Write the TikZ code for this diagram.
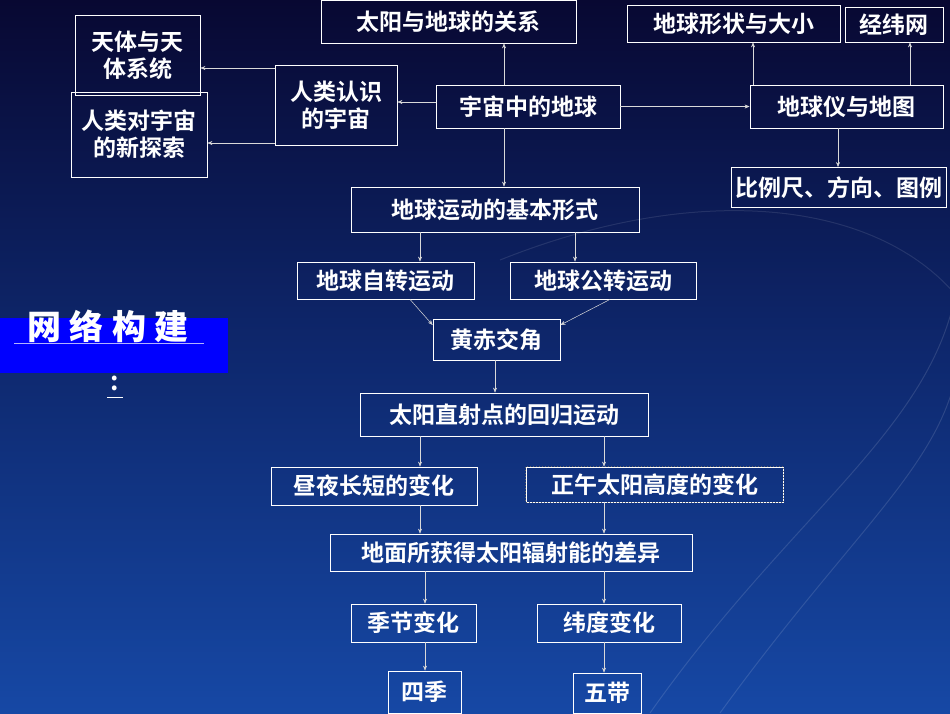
\documentclass[tikz,border=0pt]{standalone}
\usepackage{fontspec}
\setmainfont{Noto Sans CJK SC}[BoldFont={* Bold}]
\usetikzlibrary{arrows.meta}
\tikzset{
 bx/.style={draw=white,line width=0.8pt,text=white,font=\bfseries\fontsize{23}{27}\selectfont,inner sep=0pt,align=center},
 arr/.style={draw=white!85!black,line width=0.5pt,-{Stealth[length=5pt,width=4pt]}}
}
\definecolor{bgtop}{RGB}{8,8,50}
\definecolor{bgbot}{RGB}{22,72,165}
\begin{document}
\begin{tikzpicture}[x=1pt,y=-1pt]
\useasboundingbox (0,0) rectangle (950,713);
\shade[top color=bgtop,bottom color=bgbot,middle color={rgb,255:red,14;green,40;blue,110}] (0,0) rectangle (950,713);
\begin{scope}
\clip (0,0) rectangle (950,713);
\draw[white,opacity=0.12,line width=1pt] (650,713) .. controls (800,500) and (950,420) .. (960,260);
\draw[white,opacity=0.12,line width=1pt] (720,713) .. controls (860,520) and (950,460) .. (960,350);
\draw[white,opacity=0.1,line width=1pt] (500,260) .. controls (700,180) and (880,200) .. (960,300);
\end{scope}
% title
\fill[blue!100] (0,318) rectangle (228,373);
\draw[white!70!blue,line width=1pt] (14,343) -- (204,343);
\node[font=\bfseries\itshape\fontsize{34}{38}\selectfont,text=white,
  preaction={}] (ttl) at (108,326) {\addfontfeatures{LetterSpace=25}网络构建};
\node[font=\bfseries\fontsize{26}{30}\selectfont,text=white] (col) at (115,383) {:};
\draw[white,line width=1pt] (107,397) -- (123,397);
% boxes (x1,y1,x2,y2)
\newcommand{\bxat}[6]{\node[bx,minimum width={#4-#2},minimum height={#5-#3}] (#1) at ({(#2+#4)/2},{(#3+#5)/2}) {#6};}
\bxat{tydq}{321}{0}{576}{43}{太阳与地球的关系}
\bxat{dqxz}{627}{5}{840}{42}{地球形状与大小}
\bxat{jww}{845}{7}{943}{42}{经纬网}
\bxat{ttxt}{75}{15}{200}{95}{天体与天\\体系统}
\bxat{rlts}{71}{92}{207}{177}{人类对宇宙\\的新探索}
\bxat{rlrs}{275}{65}{397}{145}{人类认识\\的宇宙}
\bxat{yzdq}{436}{85}{620}{128}{宇宙中的地球}
\bxat{dqy}{750}{85}{943}{128}{地球仪与地图}
\node[bx,minimum height=40,anchor=north west] (blc) at (731,167) {\,比例尺、方向、图例\,};
\bxat{ydxs}{351}{187}{639}{232}{地球运动的基本形式}
\bxat{zz}{297}{262}{474}{299}{地球自转运动}
\bxat{gz}{510}{262}{696}{299}{地球公转运动}
\bxat{hc}{433}{319}{560}{360}{黄赤交角}
\bxat{zs}{360}{393}{648}{436}{太阳直射点的回归运动}
\bxat{zy}{271}{467}{477}{505}{昼夜长短的变化}
\bxat{zw}{526}{467}{783}{502}{正午太阳高度的变化}
\draw[black!60,dotted,line width=1pt] (zw.north west) rectangle (zw.south east);
\bxat{dm}{330}{534}{692}{571}{地面所获得太阳辐射能的差异}
\bxat{jj}{351}{604}{476}{642}{季节变化}
\bxat{wd}{537}{604}{681}{642}{纬度变化}
\bxat{sj}{388}{671}{461}{713}{四季}
\bxat{wdai}{573}{673}{641}{713}{五带}
% arrows
\draw[arr] (yzdq.north -| 504,0) -- (tydq.south -| 504,0);
\draw[arr] (yzdq.east) -- (dqy.west);
\draw[arr] (yzdq.west |- 0,102) -- (rlrs.east |- 0,102);
\draw[arr] (rlrs.west |- 0,68) -- (ttxt.east |- 0,68);
\draw[arr] (rlrs.west |- 0,143) -- (rlts.east |- 0,143);
\draw[arr] (dqy.north -| 753,0) -- (dqxz.south -| 753,0);
\draw[arr] (dqy.north -| 910,0) -- (jww.south -| 910,0);
\draw[arr] (dqy.south -| 838,0) -- (blc.north -| 838,0);
\draw[arr] (yzdq.south -| 504,0) -- (ydxs.north -| 504,0);
\draw[arr] (ydxs.south -| 420,0) -- (zz.north -| 420,0);
\draw[arr] (ydxs.south -| 575,0) -- (gz.north -| 575,0);
\draw[arr] (zz.south -| 410,0) -- (hc.west |- 0,325);
\draw[arr] (gz.south -| 610,0) -- (hc.east |- 0,325);
\draw[arr] (hc.south -| 495,0) -- (zs.north -| 495,0);
\draw[arr] (zs.south -| 420,0) -- (zy.north -| 420,0);
\draw[arr] (zs.south -| 604,0) -- (zw.north -| 604,0);
\draw[arr] (zy.south -| 420,0) -- (dm.north -| 420,0);
\draw[arr] (zw.south -| 604,0) -- (dm.north -| 604,0);
\draw[arr] (dm.south -| 425,0) -- (jj.north -| 425,0);
\draw[arr] (dm.south -| 604,0) -- (wd.north -| 604,0);
\draw[arr] (jj.south -| 425,0) -- (sj.north -| 425,0);
\draw[arr] (wd.south -| 604,0) -- (wdai.north -| 604,0);
\end{tikzpicture}
\end{document}
